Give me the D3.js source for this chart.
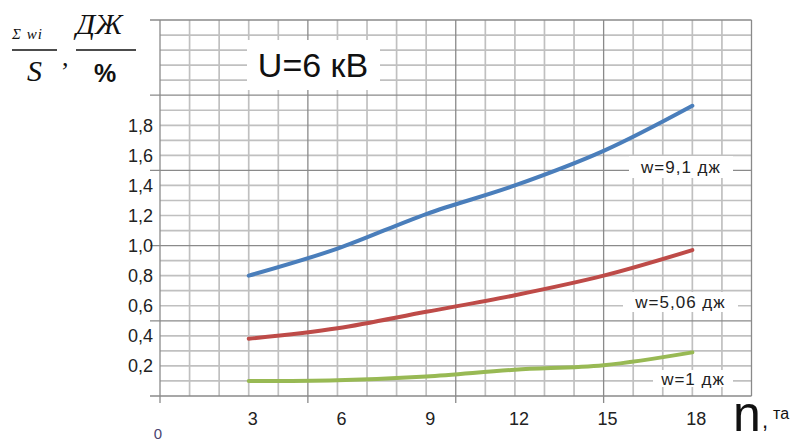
<!DOCTYPE html>
<html>
<head>
<meta charset="utf-8">
<script src="https://cdn.jsdelivr.net/npm/d3@7"></script>
<style>
  body { margin: 0; background: #fff; }
  svg { font-family: "Liberation Sans", Arial, sans-serif; }
</style>
</head>
<body>
<div id="chart"></div>
<script>
// data
const nValues = [3, 6, 9, 12, 15, 18]
const w91 = [0.80, 0.98, 1.21, 1.40, 1.63, 1.93]
const w506 = [0.38, 0.45, 0.56, 0.67, 0.80, 0.97]
const w1 = [0.10, 0.105, 0.13, 0.175, 0.205, 0.29]
const seriesNames = ['w=9,1 дж', 'w=5,06 дж', 'w=1 дж']
const seriesColors = ['#4a7ebb', '#be4b48', '#98b954']
const yTicks = [0.2, 0.4, 0.6, 0.8, 1.0, 1.2, 1.4, 1.6, 1.8]
const xTicks = [3, 6, 9, 12, 15, 18]

const width = 800, height = 443
const margin = { top: 20, left: 160, right: 48.5, bottom: 47 }

const svg = d3.select('#chart').append('svg')
  .attr('width', width)
  .attr('height', height)

const x = d3.scaleLinear().domain([0, 20]).range([margin.left, width - margin.right])
const y = d3.scaleLinear().domain([0, 2.5]).range([height - margin.bottom, margin.top])

const grid = svg.append('g')

// minor grid
grid.selectAll('.vminor')
  .data(d3.range(1, 20).filter(d => d % 5 !== 0))
  .join('line')
  .attr('x1', d => x(d)).attr('x2', d => x(d))
  .attr('y1', y(0)).attr('y2', y(2.5))
  .attr('stroke', '#c0c0c0').attr('stroke-width', 1.7)

grid.selectAll('.hminor')
  .data(d3.range(1, 25).filter(d => d % 5 !== 0))
  .join('line')
  .attr('y1', d => y(d / 10)).attr('y2', d => y(d / 10))
  .attr('x1', x(0)).attr('x2', x(20))
  .attr('stroke', '#c0c0c0').attr('stroke-width', 1.7)

// major grid, sticking out a bit past the axes
grid.selectAll('.vmajor')
  .data([0, 5, 10, 15, 20])
  .join('line')
  .attr('x1', d => x(d)).attr('x2', d => x(d))
  .attr('y1', d => d === 20 ? y(0) : y(0) + 7).attr('y2', y(2.5))
  .attr('stroke', '#8a8a8a').attr('stroke-width', 1.3)

grid.selectAll('.hmajor')
  .data([0, 0.5, 1, 1.5, 2, 2.5])
  .join('line')
  .attr('y1', d => y(d)).attr('y2', d => y(d))
  .attr('x1', x(0) - 10).attr('x2', x(20))
  .attr('stroke', '#8a8a8a').attr('stroke-width', 1.3)

// curves
const series = [w91, w506, w1]
const line = d3.line()
  .x((d, i) => x(nValues[i]))
  .y(d => y(d))
  .curve(d3.curveCatmullRom.alpha(0.5))

svg.selectAll('.series')
  .data(series)
  .join('path')
  .attr('d', d => line(d))
  .attr('fill', 'none')
  .attr('stroke', (d, i) => seriesColors[i])
  .attr('stroke-width', 4)
  .attr('stroke-linecap', 'round')

// series labels with white boxes
const labelBoxes = [
  [629, 156, 104, 22],
  [623, 292, 115, 20],
  [653, 370, 80, 17]
]
labelBoxes.forEach((b, i) => {
  svg.append('rect')
    .attr('x', b[0]).attr('y', b[1])
    .attr('width', b[2]).attr('height', b[3])
    .attr('fill', '#fff')
  svg.append('text')
    .attr('x', b[0] + b[2] / 2)
    .attr('y', b[1] + b[3] / 2)
    .attr('dy', '0.36em')
    .attr('text-anchor', 'middle')
    .attr('font-size', 17)
    .attr('letter-spacing', 1)
    .attr('fill', '#222')
    .text(seriesNames[i])
})

// U=6 kV box
svg.append('rect')
  .attr('x', 247).attr('y', 40).attr('width', 133).attr('height', 50)
  .attr('fill', '#fff')
svg.append('text')
  .attr('x', 313).attr('y', 77)
  .attr('text-anchor', 'middle')
  .attr('font-size', 34)
  .attr('fill', '#111')
  .text('U=6 кВ')

// tick labels
const fmt = d => d3.format('.1f')(d).replace('.', ',')
svg.selectAll('.ylab')
  .data(yTicks)
  .join('text')
  .attr('x', 153)
  .attr('y', d => y(d))
  .attr('dy', '0.36em')
  .attr('text-anchor', 'end')
  .attr('font-size', 18)
  .attr('fill', '#222')
  .text(fmt)

svg.selectAll('.xlab')
  .data(xTicks)
  .join('text')
  .attr('x', d => x(d) + 4)
  .attr('y', 425)
  .attr('text-anchor', 'middle')
  .attr('font-size', 18)
  .attr('fill', '#222')
  .text(d => d)

svg.append('text')
  .attr('x', 158).attr('y', 439)
  .attr('text-anchor', 'middle')
  .attr('font-size', 15)
  .attr('fill', '#4a4470')
  .text('0')

// x axis title
svg.append('text')
  .attr('x', 733).attr('y', 431)
  .attr('font-size', 50)
  .attr('fill', '#111')
  .text('n')
svg.append('text')
  .attr('x', 762).attr('y', 428)
  .attr('font-size', 22)
  .attr('fill', '#111')
  .text(',')
svg.append('text')
  .attr('x', 773).attr('y', 419)
  .attr('font-size', 16)
  .attr('fill', '#111')
  .text('та')

// y axis title: (Σ wi / S), (ДЖ / %)
const serif = '"Liberation Serif", "Times New Roman", serif'
svg.append('text')
  .attr('x', 12).attr('y', 39)
  .style('font-family', serif).style('font-style', 'italic')
  .attr('font-size', 15).attr('letter-spacing', 1).attr('fill', '#111')
  .text('Σ wi')
svg.append('line')
  .attr('x1', 12).attr('x2', 57).attr('y1', 50).attr('y2', 50)
  .attr('stroke', '#111').attr('stroke-width', 1.5)
svg.append('text')
  .attr('x', 27).attr('y', 81)
  .style('font-family', serif).style('font-style', 'italic')
  .attr('font-size', 30).attr('fill', '#111')
  .text('S')
svg.append('text')
  .attr('x', 62).attr('y', 66)
  .style('font-family', serif)
  .attr('font-size', 26).attr('fill', '#111')
  .text(',')
svg.append('text')
  .attr('x', 76).attr('y', 34)
  .style('font-family', serif).style('font-style', 'italic')
  .attr('font-size', 30).attr('fill', '#111')
  .text('ДЖ')
svg.append('line')
  .attr('x1', 76).attr('x2', 136).attr('y1', 50).attr('y2', 50)
  .attr('stroke', '#111').attr('stroke-width', 1.5)
svg.append('text')
  .attr('x', 105).attr('y', 82)
  .attr('text-anchor', 'middle')
  .attr('font-size', 25).attr('font-weight', 'bold').attr('fill', '#111')
  .text('%')
</script>
</body>
</html>
